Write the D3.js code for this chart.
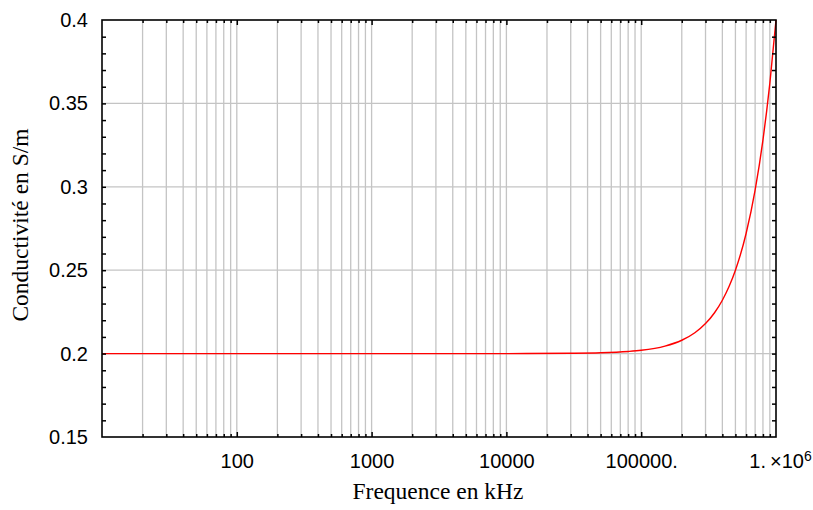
<!DOCTYPE html>
<html>
<head>
<meta charset="utf-8">
<script src="https://cdn.jsdelivr.net/npm/d3@7"></script>
<style>
  body { margin: 0; background: #fff; }
  .tick text { font-family: "Liberation Sans", Arial, sans-serif; font-size: 20px; fill: #000; }
  .title { font-family: "Liberation Serif", "Times New Roman", serif; font-size: 23.5px; fill: #000; }
</style>
</head>
<body>
<div id="viz"></div>
<script>
// data: frequency in kHz, conductivity in S/m
const freq = [10, 100, 1000, 10000, 30000, 50000, 80000, 100000, 150000, 200000,
              250000, 300000, 350000, 400000, 450000, 500000, 600000, 700000,
              800000, 900000, 1000000];
const sigma = [0.2, 0.2, 0.2, 0.2, 0.2002, 0.2005, 0.2013, 0.202, 0.2045, 0.208,
               0.2125, 0.218, 0.2245, 0.232, 0.2405, 0.25, 0.272, 0.298,
               0.328, 0.362, 0.4];

// tick labels
const xLabelVals = [100, 1000, 10000, 100000, 1000000];
const xLabels = ["100", "1000", "10000", "100000.", "1.\u2009\u00d710"];
const yLabelVals = [0.15, 0.2, 0.25, 0.3, 0.35, 0.4];
const yLabels = ["0.15", "0.2", "0.25", "0.3", "0.35", "0.4"];

const outerWidth = 813, outerHeight = 510;
const plotL = 102, plotR = 776, plotT = 20, plotB = 437;

const x = d3.scaleLog().domain([10, 1e6]).range([plotL, plotR]);
const y = d3.scaleLinear().domain([0.15, 0.4]).range([plotB, plotT]);

const svg = d3.select("#viz").append("svg")
    .attr("width", outerWidth)
    .attr("height", outerHeight);

// grid
const xGrid = x.ticks().filter(d => d > 10 && d < 1e6);
const yGrid = yLabelVals.filter(d => d > 0.15 && d < 0.4);

svg.append("g").selectAll("line")
  .data(xGrid)
  .join("line")
    .attr("x1", d => x(d)).attr("x2", d => x(d))
    .attr("y1", plotT).attr("y2", plotB)
    .attr("stroke", "#c4c4c4").attr("stroke-width", 1.3);

svg.append("g").selectAll("line")
  .data(yGrid)
  .join("line")
    .attr("x1", plotL).attr("x2", plotR)
    .attr("y1", d => y(d)).attr("y2", d => y(d))
    .attr("stroke", "#c4c4c4").attr("stroke-width", 1.3);

// curve
const line = d3.line()
    .x((d, i) => x(freq[i]))
    .y(d => y(d))
    .curve(d3.curveMonotoneX);

svg.append("path")
    .datum(sigma)
    .attr("fill", "none")
    .attr("stroke", "#ff0000")
    .attr("stroke-width", 1.4)
    .attr("d", line);

// frame ticks (pointing inward)
const minorY = d3.range(16, 40).map(d => d / 100);
const majorX = [100, 1000, 10000, 100000];

function tickAxis(axis, vals, size, tx, ty) {
  svg.append("g")
      .attr("transform", "translate(" + tx + "," + ty + ")")
      .call(axis.tickValues(vals).tickSize(size).tickFormat(""))
      .call(g => g.select(".domain").remove())
      .selectAll("line").attr("stroke", "#000").attr("stroke-width", 1.5);
}
tickAxis(d3.axisBottom(x), xGrid.filter(d => !majorX.includes(d)), -3, 0, plotB);
tickAxis(d3.axisBottom(x), majorX, -5, 0, plotB);
tickAxis(d3.axisTop(x), xGrid.filter(d => !majorX.includes(d)), -3, 0, plotT);
tickAxis(d3.axisTop(x), majorX, -5, 0, plotT);
tickAxis(d3.axisLeft(y), minorY, -4, plotL, 0);
tickAxis(d3.axisRight(y), minorY, -4, plotR, 0);

// frame
svg.append("rect")
    .attr("x", plotL).attr("y", plotT)
    .attr("width", plotR - plotL).attr("height", plotB - plotT)
    .attr("fill", "none")
    .attr("stroke", "#000")
    .attr("stroke-width", 1.6);

// tick labels
const xAxisG = svg.append("g")
    .attr("transform", "translate(0," + plotB + ")")
    .call(d3.axisBottom(x).tickValues(xLabelVals).tickSize(0).tickPadding(17)
      .tickFormat((d, i) => xLabels[i]));
xAxisG.select(".domain").remove();
xAxisG.selectAll(".tick text")
    .filter(d => d === 1e6)
    .attr("dx", "0.2em")
    .append("tspan")
      .attr("dy", "-0.55em")
      .attr("font-size", "14px")
      .text("6");

const yAxisG = svg.append("g")
    .attr("transform", "translate(" + plotL + ",0)")
    .call(d3.axisLeft(y).tickValues(yLabelVals).tickSize(0).tickPadding(14)
      .tickFormat((d, i) => yLabels[i]));
yAxisG.select(".domain").remove();

// axis titles
svg.append("text")
    .attr("class", "title")
    .attr("text-anchor", "middle")
    .attr("x", 438).attr("y", 499)
    .text("Frequence en kHz");

svg.append("text")
    .attr("class", "title")
    .attr("text-anchor", "middle")
    .attr("transform", "translate(28,225) rotate(-90)")
    .text("Conductivité en S/m");
</script>
</body>
</html>
